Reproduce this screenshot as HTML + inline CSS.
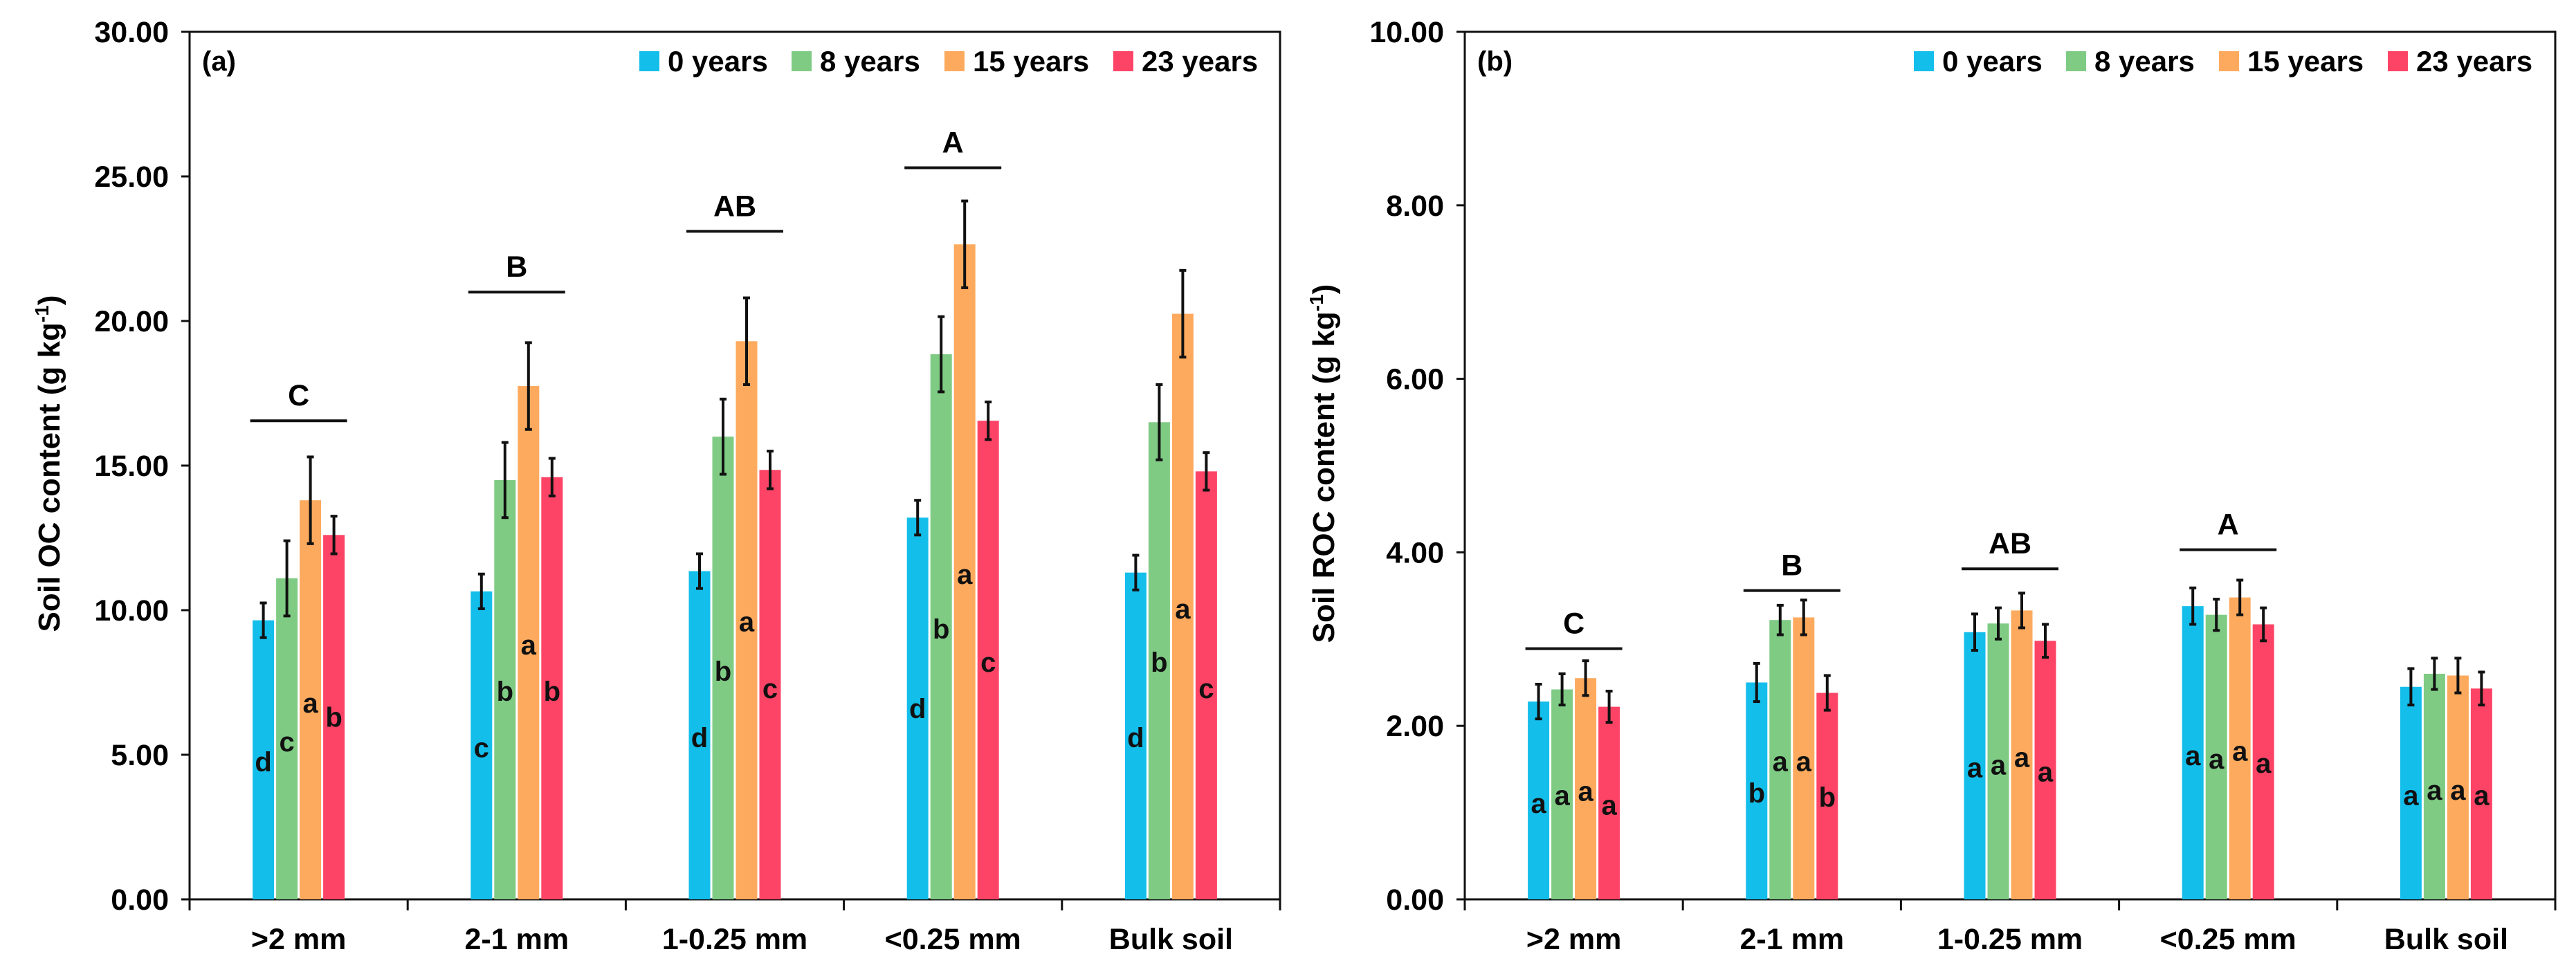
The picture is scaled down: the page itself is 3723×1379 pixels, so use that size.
<!DOCTYPE html>
<html><head><meta charset="utf-8"><style>
html,body{margin:0;padding:0;background:#fff;}
svg{display:block;font-family:"Liberation Sans",Arial,sans-serif;font-weight:bold;}
</style></head><body>
<svg id="chart" width="3723" height="1379" viewBox="0 0 3723 1379" xmlns="http://www.w3.org/2000/svg"></svg>
<script>
const categories = [">2 mm","2-1 mm","1-0.25 mm","<0.25 mm","Bulk soil"];
const seriesNames = ["0 years","8 years","15 years","23 years"];
const colors = ["#14BEEB","#7FCB84","#FDAA5E","#FD4466"];
const ocValues = [[9.65,11.1,13.8,12.6],[10.65,14.5,17.75,14.6],[11.35,16.0,19.3,14.85],[13.2,18.85,22.65,16.55],[11.3,16.5,20.25,14.8]];
const ocErrors = [[0.6,1.3,1.5,0.65],[0.6,1.3,1.5,0.65],[0.6,1.3,1.5,0.65],[0.6,1.3,1.5,0.65],[0.6,1.3,1.5,0.65]];
const ocLetters = [["d","c","a","b"],["c","b","a","b"],["d","b","a","c"],["d","b","a","c"],["d","b","a","c"]];
const ocLetterPos = [[4.76,5.46,6.8,6.3],[5.25,7.2,8.8,7.2],[5.6,7.9,9.6,7.3],[6.6,9.35,11.25,8.2],[5.6,8.2,10.05,7.3]];
const ocGroupLabels = ["C","B","AB","A",""];
const ocGroupLine = [16.55,21.0,23.1,25.3,null];
const ocTicks = ["0.00","5.00","10.00","15.00","20.00","25.00","30.00"];
const rocValues = [[2.28,2.42,2.55,2.22],[2.5,3.22,3.25,2.38],[3.08,3.18,3.33,2.98],[3.38,3.28,3.48,3.17],[2.45,2.6,2.58,2.43]];
const rocErrors = [[0.2,0.18,0.2,0.18],[0.22,0.17,0.2,0.2],[0.21,0.18,0.2,0.19],[0.21,0.18,0.2,0.19],[0.21,0.18,0.2,0.19]];
const rocLetters = [["a","a","a","a"],["b","a","a","b"],["a","a","a","a"],["a","a","a","a"],["a","a","a","a"]];
const rocLetterPos = [[1.11,1.2,1.25,1.09],[1.23,1.59,1.59,1.18],[1.52,1.55,1.64,1.47],[1.66,1.62,1.71,1.57],[1.2,1.26,1.26,1.2]];
const rocGroupLabels = ["C","B","AB","A",""];
const rocGroupLine = [2.89,3.56,3.81,4.03,null];
const rocTicks = ["0.00","2.00","4.00","6.00","8.00","10.00"];

const svg = document.getElementById('chart');
const NS = "http://www.w3.org/2000/svg";
function mk(tag, attrs, parent){const e=document.createElementNS(NS,tag);for(const k in attrs)e.setAttribute(k,attrs[k]);(parent||svg).appendChild(e);return e;}

function panel(opt){
  const g = mk('g',{});
  
  
  const x0=opt.x0, x1=opt.x1, yTop=46, yBot=1300, max=opt.max;
  const Y = v => yBot - v/max*(yBot-yTop);
  const cw = (x1-x0)/categories.length;
  const X = i => x0 + cw*(i+0.5);
  // frame
  const fr = mk('rect',{x:x0,y:yTop,width:x1-x0,height:yBot-yTop,fill:'none',stroke:'#111','stroke-width':3},g);
  
  
  // y ticks
  opt.ticks.forEach((t,i)=>{
    const v = max*i/(opt.ticks.length-1);
    mk('line',{x1:x0-12,x2:x0,y1:Y(v),y2:Y(v),stroke:'#111','stroke-width':3},g);
    const tx = mk('text',{x:x0-30,y:Y(v)+15,'text-anchor':'end','font-size':43},g);
    tx.textContent=t;
    
    
  });
  // x ticks
  for(let i=0;i<=categories.length;i++){
    mk('line',{x1:x0+cw*i,x2:x0+cw*i,y1:yBot,y2:yBot+16,stroke:'#111','stroke-width':3},g);
  }
  categories.forEach((c,i)=>{
    const tx=mk('text',{x:X(i),y:1372,'text-anchor':'middle','font-size':43},g);
    tx.textContent=c;
    
    
  });
  // y title
  const yt=mk('text',{x:0,y:0,'text-anchor':'middle','font-size':44,transform:`translate(${opt.titleX},670) rotate(-90)`},g);
  yt.innerHTML=opt.title+' (g kg<tspan dy="-16" font-size="28">-1</tspan><tspan dy="16">)</tspan>';
  
  
  // bars
  const bw=31, pitch=34;
  categories.forEach((c,i)=>{
    const start = X(i) - pitch*2 + 1.5;
    for(let s=0;s<4;s++){
      const v=opt.values[i][s], e=opt.errors[i][s];
      const bx = start + pitch*s;
      const r=mk('rect',{x:bx,y:Y(v),width:bw,height:yBot-Y(v),fill:colors[s]},g);
      
      
      const cx=bx+bw/2;
      const eg=mk('g',{stroke:'#111','stroke-width':4},g);
      
      
      mk('line',{x1:cx,x2:cx,y1:Y(v+e),y2:Y(v-e)},eg);
      mk('line',{x1:cx-5,x2:cx+5,y1:Y(v+e),y2:Y(v+e)},eg);
      mk('line',{x1:cx-5,x2:cx+5,y1:Y(v-e),y2:Y(v-e)},eg);
      const lt=mk('text',{x:cx,y:Y(opt.letterPos[i][s])+14,'text-anchor':'middle','font-size':40,fill:'#111'},g);
      lt.textContent=opt.letters[i][s];
      
      
    }
    if(opt.groupLine[i]!==null){
      const ly=Y(opt.groupLine[i]);
      const gl=mk('line',{x1:X(i)-70,x2:X(i)+70,y1:ly,y2:ly,stroke:'#111','stroke-width':4},g);
      
      
      const gt=mk('text',{x:X(i),y:ly-22,'text-anchor':'middle','font-size':43},g);
      gt.textContent=opt.groupLabels[i];
      
      
    }
  });
  // panel label
  const pl=mk('text',{x:x0+18,y:102,'font-size':40},g);
  pl.textContent=opt.label;
  
  
  // legend
  const lg=mk('g',{},g);
  
  
  seriesNames.forEach((n,s)=>{
    const lx=opt.legendX[s];
    const sq=mk('rect',{x:lx,y:74,width:29,height:29,fill:colors[s]},lg);
    
    
    const lt=mk('text',{x:lx+41,y:103,'font-size':42},lg);
    lt.textContent=n;
    
    
  });
}
panel({name:'panel-a-soil-oc',x0:274,x1:1850,max:30,ticks:ocTicks,values:ocValues,errors:ocErrors,letters:ocLetters,letterPos:ocLetterPos,groupLabels:ocGroupLabels,groupLine:ocGroupLine,title:'Soil OC content',titleX:86,label:'(a)',legendX:[924,1144,1365,1609]});
panel({name:'panel-b-soil-roc',x0:2117,x1:3693,max:10,ticks:rocTicks,values:rocValues,errors:rocErrors,letters:rocLetters,letterPos:rocLetterPos,groupLabels:rocGroupLabels,groupLine:rocGroupLine,title:'Soil ROC content',titleX:1928,label:'(b)',legendX:[2766,2986,3207,3451]});
</script>
</body></html>
